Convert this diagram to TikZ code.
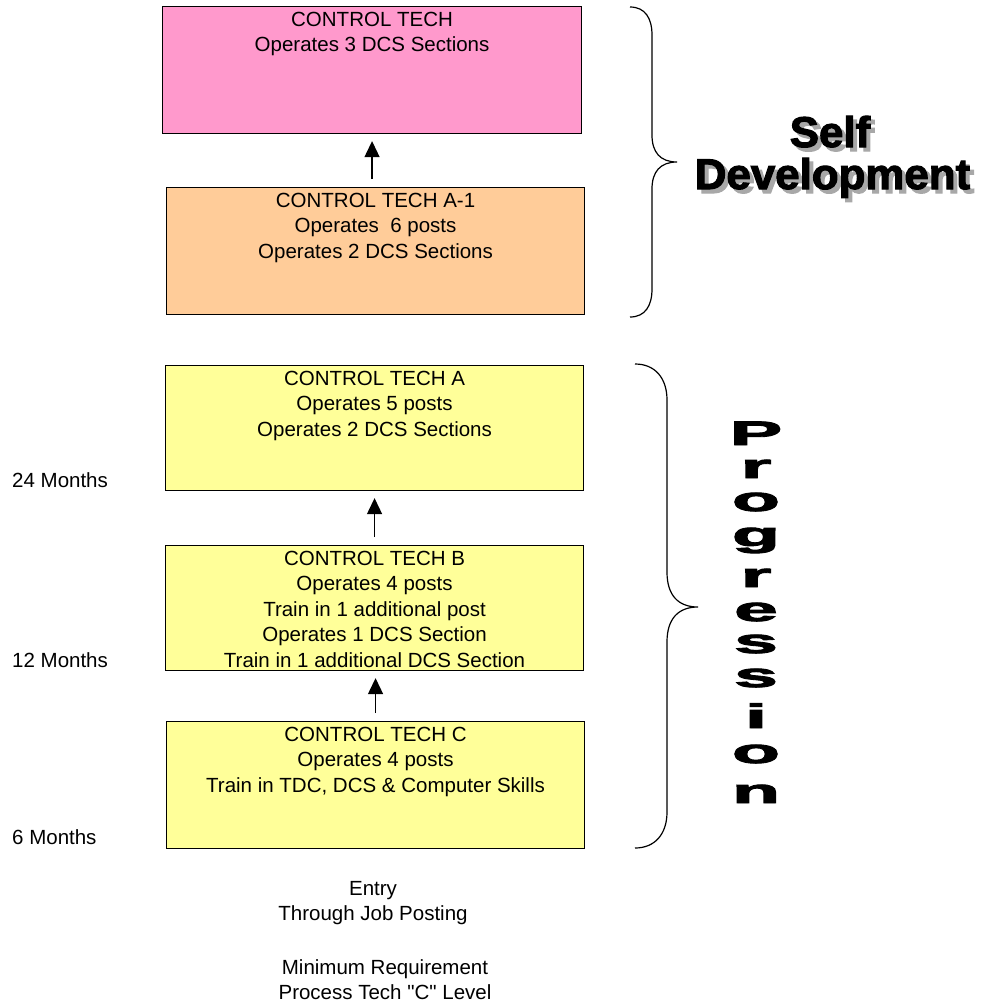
\documentclass[tikz,border=0pt]{standalone}
\usepackage{fontspec}
\setmainfont{Liberation Sans}[Ligatures=TeXOff]
\newfontfamily\heavyfont[FakeBold=2.5]{Liberation Sans Bold}
\usetikzlibrary{arrows.meta}

\definecolor{pinkfill}{HTML}{FF99CC}
\definecolor{orangefill}{HTML}{FFCC99}
\definecolor{yellowfill}{HTML}{FFFF99}
\definecolor{shadowgray}{HTML}{A8A8A8}

% heavy word with a grey drop shadow behind it
\newcommand{\shadowword}[1]{\makebox[0pt][l]{\hspace{4pt}\raisebox{-4pt}{\color{shadowgray}#1}}#1}

\begin{document}
\begin{tikzpicture}[x=1pt,y=-1pt,
  stagebox/.style={draw=black,line width=1.1pt,inner sep=0pt,anchor=north west},
  boxtext/.style={anchor=north,align=center,inner sep=0pt,
    font=\fontsize{20.5}{25.4}\selectfont},
  plaintext/.style={inner sep=0pt,font=\fontsize{20.5}{25.4}\selectfont},
  uparrow/.style={line width=1.3pt,-{Triangle[length=16pt,width=15pt]},
    shorten >=7pt,shorten <=8pt},
  brace/.style={line width=1.2pt},
  bigword/.style={inner sep=0pt,anchor=base,xscale=1.02,
    font=\heavyfont\fontsize{43}{43}\selectfont},
  stackletter/.style={inner sep=0pt,anchor=base,xscale=2.3,
    font=\heavyfont\fontsize{34}{34}\selectfont},
]
\useasboundingbox (0,0) rectangle (988,1002);

% career stages
\node[stagebox,fill=pinkfill,minimum width=419pt,minimum height=127pt] (ct) at (162,6) {};
\node[stagebox,fill=orangefill,minimum width=418pt,minimum height=127pt] (cta1) at (166,187) {};
\node[stagebox,fill=yellowfill,minimum width=418pt,minimum height=125pt] (cta) at (165,365) {};
\node[stagebox,fill=yellowfill,minimum width=418pt,minimum height=125pt] (ctb) at (165,545) {};
\node[stagebox,fill=yellowfill,minimum width=418pt,minimum height=127pt] (ctc) at (166,721) {};

\node[boxtext] (ct text) at ([yshift=-6pt]ct.north) {CONTROL TECH\\Operates 3 DCS Sections};
\node[boxtext] (cta1 text) at ([yshift=-6pt]cta1.north) {CONTROL TECH A-1\\Operates\ \ 6 posts\\Operates 2 DCS Sections};
\node[boxtext] (cta text) at ([yshift=-6pt]cta.north) {CONTROL TECH A\\Operates 5 posts\\Operates 2 DCS Sections};
\node[boxtext] (ctb text) at ([yshift=-6pt]ctb.north) {CONTROL TECH B\\Operates 4 posts\\Train in 1 additional post\\Operates 1 DCS Section\\Train in 1 additional DCS Section};
\node[boxtext] (ctc text) at ([yshift=-6pt]ctc.north) {CONTROL TECH C\\Operates 4 posts\\Train in TDC, DCS \& Computer Skills};

% promotion arrows (kept vertical)
\draw[uparrow] (ct.south |- cta1.north) -- (ct.south);
\draw[uparrow] (ctb.north) -- (ctb.north |- cta.south);
\draw[uparrow] (ctc.north) -- (ctc.north |- ctb.south);

% time in stage
\node[plaintext,anchor=west] (m24) at (12,480) {24 Months};
\node[plaintext,anchor=west] (m12) at (12,660) {12 Months};
\node[plaintext,anchor=west] (m6) at (12,837) {6 Months};

% entry notes
\node[plaintext,anchor=north,align=center] (entry) at (373,881) {Entry\\Through Job Posting};
\node[plaintext,anchor=north,align=center] (minreq) at (385,959) {Minimum Requirement\\Process Tech "C" Level};

% braces
\draw[brace] (630,7) .. controls (645,7) and (652,18) .. (652,35) -- (652,135)
  .. controls (652,152) and (660,162) .. (677,162)
  .. controls (660,162) and (652,172) .. (652,189) -- (652,289)
  .. controls (652,306) and (645,317) .. (630,317);
\draw[brace] (635,364) .. controls (655,364) and (667,378) .. (667,400) -- (667,572)
  .. controls (667,595) and (678,607) .. (698,607)
  .. controls (678,607) and (667,619) .. (667,642) -- (667,812)
  .. controls (667,834) and (655,848) .. (635,848);

% Self Development
\node[bigword] (self) at (830,147) {\shadowword{Self}};
\node[bigword] (dev) at (832.5,189) {\shadowword{Development}};

% Progression, stacked letters
\foreach \ch/\yb [count=\i] in {P/445,r/478,o/511,g/546,r/587,e/621,s/653,s/687,i/728,o/763,n/803}
  \node[stackletter] (prog\i) at (756,\yb) {\ch};
\end{tikzpicture}
\end{document}
